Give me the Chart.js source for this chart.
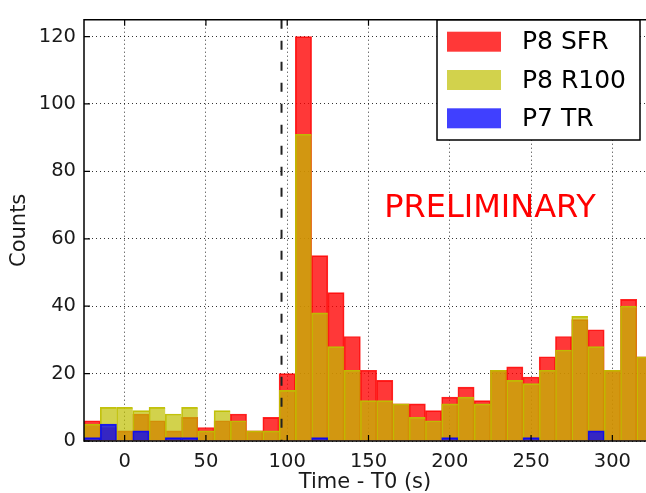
<!DOCTYPE html>
<html>
<head>
<meta charset="utf-8">
<script src="https://cdn.jsdelivr.net/npm/chart.js@4.4.1/dist/chart.umd.min.js"></script>
<style>
  html, body { margin: 0; padding: 0; background: #fff; }
  #wrap { width: 646px; height: 493px; }
</style>
</head>
<body>
<div id="wrap"><canvas id="histo"></canvas></div>
<script>
// 10 s bins, centres
const binCenters = [-20, -10, 0, 10, 20, 30, 40, 50, 60, 70, 80, 90, 100, 110, 120, 130, 140, 150,
  160, 170, 180, 190, 200, 210, 220, 230, 240, 250, 260, 270, 280, 290, 300, 310, 320];
const sfrCounts = [6, 4, 3, 8, 6, 3, 7, 4, 6, 8, 3, 7, 20, 120, 55, 44, 31, 21,
  18, 11, 11, 9, 13, 16, 12, 21, 22, 19, 25, 31, 36, 33, 21, 42, 25];
const r100Counts = [5, 10, 10, 9, 10, 8, 10, 3, 9, 6, 3, 3, 15, 91, 38, 28, 21, 12,
  12, 11, 7, 6, 11, 13, 11, 21, 18, 17, 21, 27, 37, 28, 21, 40, 25];
const trCounts = [1, 5, 0, 3, 0, 1, 1, 0, 0, 0, 0, 0, 0, 0, 1, 0, 0, 0,
  0, 0, 0, 0, 1, 0, 0, 0, 0, 1, 0, 0, 0, 3, 0, 0, 0];
const seriesNames = ['P8 SFR', 'P8 R100', 'P7 TR'];
const xTicks = [0, 50, 100, 150, 200, 250, 300];
const yTicks = [0, 20, 40, 60, 80, 100, 120];
const triggerTime = 96.5;

const toPoints = (vals) => binCenters.map((c, i) => ({ x: c, y: vals[i] }));

const overlay = {
  id: 'overlay',
  afterDraw(chart) {
    const { ctx, chartArea: a, scales: { x, y } } = chart;
    ctx.save();

    // trigger line
    const tx = x.getPixelForValue(triggerTime);
    ctx.beginPath();
    ctx.setLineDash([9, 12]);
    ctx.lineWidth = 2;
    ctx.strokeStyle = '#222';
    ctx.moveTo(tx, a.top);
    ctx.lineTo(tx, a.bottom);
    ctx.stroke();
    ctx.setLineDash([]);

    // inward ticks
    ctx.beginPath();
    ctx.lineWidth = 1.2;
    ctx.strokeStyle = '#000';
    xTicks.forEach(v => {
      const px = x.getPixelForValue(v);
      ctx.moveTo(px, a.bottom); ctx.lineTo(px, a.bottom - 6);
      ctx.moveTo(px, a.top); ctx.lineTo(px, a.top + 6);
    });
    yTicks.forEach(v => {
      const py = y.getPixelForValue(v);
      ctx.moveTo(a.left, py); ctx.lineTo(a.left + 6, py);
    });
    ctx.stroke();

    // frame
    ctx.beginPath();
    ctx.lineWidth = 1.5;
    ctx.moveTo(a.right + 2, a.top);
    ctx.lineTo(a.left, a.top);
    ctx.lineTo(a.left, a.bottom);
    ctx.lineTo(a.right + 2, a.bottom);
    ctx.stroke();

    // legend
    ctx.fillStyle = '#fff';
    ctx.fillRect(437, 20, 203, 120);
    ctx.lineWidth = 1.5;
    ctx.strokeRect(437, 20, 203, 120);
    ctx.font = '25px "DejaVu Sans"';
    ctx.textBaseline = 'middle';
    ctx.textAlign = 'left';
    const rows = [41.7, 80, 118.3];
    chart.data.datasets.forEach((ds, i) => {
      ctx.fillStyle = ds.backgroundColor;
      ctx.fillRect(447, rows[i] - 10, 54, 20);
      ctx.fillStyle = '#000';
      ctx.fillText(ds.label, 522, rows[i] + 1);
    });

    // watermark
    ctx.font = '32px "DejaVu Sans"';
    ctx.fillStyle = '#ff0000';
    ctx.textAlign = 'center';
    ctx.fillText('PRELIMINARY', 490, 209);
    ctx.restore();
  }
};

const barStyle = { grouped: false, barPercentage: 1, categoryPercentage: 1, borderSkipped: 'start' };

new Chart(document.getElementById('histo'), {
  type: 'bar',
  data: {
    datasets: [
      { ...barStyle, label: seriesNames[0], data: toPoints(sfrCounts), order: 3,
        backgroundColor: 'rgba(255, 0, 0, 0.78)', borderColor: 'rgba(255, 0, 0, 0.85)', borderWidth: 1 },
      { ...barStyle, label: seriesNames[1], data: toPoints(r100Counts), order: 2,
        backgroundColor: 'rgba(191, 191, 0, 0.7)', borderColor: 'rgba(191, 191, 0, 0.95)', borderWidth: { left: 1, right: 0, top: 1, bottom: 0 } },
      { ...barStyle, label: seriesNames[2], data: toPoints(trCounts), order: 1,
        backgroundColor: 'rgba(0, 0, 255, 0.75)', borderColor: 'rgba(0, 0, 255, 0.85)', borderWidth: 1 }
    ]
  },
  options: {
    responsive: true,
    maintainAspectRatio: false,
    animation: false,
    layout: { padding: { top: 7, right: 0, left: 0, bottom: 0 } },
    plugins: { legend: { display: false }, tooltip: { enabled: false } },
    scales: {
      x: {
        type: 'linear',
        min: -25,
        max: 320.7,
        offset: false,
        z: 1,
        afterBuildTicks: (s) => { s.ticks = xTicks.map(v => ({ value: v })); },
        afterFit: (s) => { s.height = 52; },
        grid: { offset: false, color: 'rgba(0,0,0,0.8)', lineWidth: 1, drawTicks: false },
        border: { display: false, dash: [1, 3] },
        ticks: { padding: 9, color: '#1a1a1a', font: { family: 'DejaVu Sans', size: 19.5 }, maxRotation: 0 },
        title: { display: true, text: 'Time - T0 (s)', color: '#1a1a1a',
          font: { family: 'DejaVu Sans', size: 21, lineHeight: 1 }, padding: { top: 0, bottom: 0 } }
      },
      y: {
        min: 0,
        max: 125,
        z: 1,
        afterBuildTicks: (s) => { s.ticks = yTicks.map(v => ({ value: v })); },
        afterFit: (s) => { s.width = 84; },
        grid: { color: 'rgba(0,0,0,0.8)', lineWidth: 1, drawTicks: false },
        border: { display: false, dash: [1, 3] },
        ticks: { padding: 8, color: '#1a1a1a', font: { family: 'DejaVu Sans', size: 19.5 } },
        title: { display: true, text: 'Counts', color: '#1a1a1a',
          font: { family: 'DejaVu Sans', size: 21, lineHeight: 1 }, padding: { top: 9.5, bottom: 0 } }
      }
    }
  },
  plugins: [overlay]
});
</script>
</body>
</html>
